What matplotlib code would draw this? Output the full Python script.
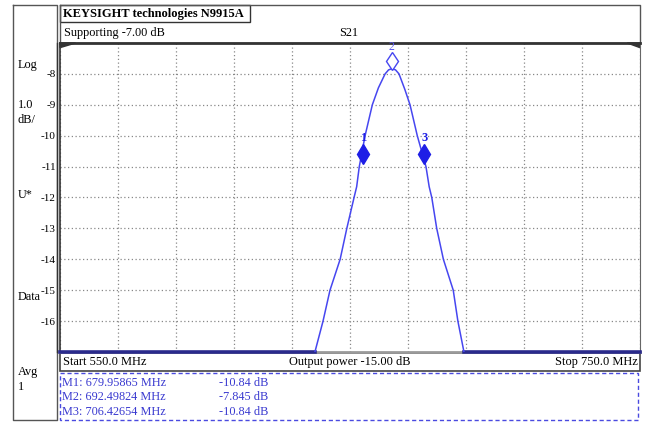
import matplotlib
matplotlib.use("Agg")
import matplotlib.pyplot as plt
from matplotlib.patches import Rectangle, Polygon

plt.rcParams['font.family'] = ['Liberation Serif', 'DejaVu Serif']

# trace (MHz, dB)
freq = [637.9, 640.7, 643.1, 646.6, 648.9, 651.4, 652.3, 653.2, 655.2, 657.7,
        659.8, 662.1, 663.3, 664.5, 665.7, 666.9, 668.9, 670.7, 673.2, 676.2,
        677.3, 678.2, 679.9, 682.2, 685.6, 687.2, 689.3]
s21 = [-17.0, -16.0, -15.0, -14.0, -13.0, -12.0, -11.65, -11.0, -10.0, -9.0,
       -8.45, -8.0, -7.87, -7.83, -7.87, -8.0, -8.5, -9.0, -10.0, -11.0,
       -11.65, -12.0, -13.0, -14.0, -15.0, -16.0, -17.0]

# markers as drawn on the screen
mk_freq = [654.4, 664.4, 675.6]
mk_level = [-10.58, -7.57, -10.58]
mk_names = ['1', '2', '3']

# marker table text
mk_rows = ['M1: 679.95865 MHz', 'M2: 692.49824 MHz', 'M3: 706.42654 MHz']
mk_vals = ['-10.84 dB', '-7.845 dB', '-10.84 dB']

start_mhz, stop_mhz = 550.0, 750.0
ref_db, scale_db = -7.0, 1.0
yticks = [-8, -9, -10, -11, -12, -13, -14, -15, -16]

W, H = 647, 422
fig = plt.figure(figsize=(W / 100, H / 100), dpi=100)

# background layer in pixel coords for the instrument frames
bg = fig.add_axes([0, 0, 1, 1], zorder=0)
bg.set_xlim(0, W)
bg.set_ylim(H, 0)
bg.axis('off')

frame = dict(color='#555555', lw=1.0)
# left column
bg.plot([13, 13, 57, 57, 13], [5, 420, 420, 5, 5], **frame)
# header frame
bg.plot([60, 640, 640, 60, 60], [5, 5, 43, 43, 5], **frame)
bg.add_patch(Rectangle((60, 5), 190, 17, fill=False, ec='#333333', lw=1.0))
# bottom info bar
bg.add_patch(Rectangle((60, 353), 580, 18, fill=False, ec='#444444', lw=1.2))
# marker table (dashed blue)
bg.add_patch(Rectangle((60, 373), 578, 47, fill=False, ec='#4a4ae0', lw=1.0,
                       ls=(0, (3, 2))))

bg.text(63, 14, 'KEYSIGHT technologies N9915A', fontsize=9.0, fontweight='bold',
        va='center', ha='left')
bg.text(64, 33, 'Supporting -7.00 dB', fontsize=8.8, va='center', ha='left')
bg.text(349, 33, 'S21', fontsize=8.8, va='center', ha='center')

for txt, yy in [('Log', 65), ('1.0', 105), ('dB/', 120), ('U*', 195),
                ('Data', 297), ('Avg', 372), ('1', 387)]:
    bg.text(18, yy, txt, fontsize=8.8, va='center', ha='left')

bg.text(63, 362, 'Start %.1f MHz' % start_mhz, fontsize=8.9, va='center', ha='left')
bg.text(350, 362, 'Output power -15.00 dB', fontsize=8.9, va='center', ha='center')
bg.text(638, 362, 'Stop %.1f MHz' % stop_mhz, fontsize=8.9, va='center', ha='right')

for i, (r, v) in enumerate(zip(mk_rows, mk_vals)):
    yy = 383 + i * 14.5
    bg.text(62, yy, r, fontsize=8.8, color='#3a3ad0', va='center', ha='left')
    bg.text(219, yy, v, fontsize=8.8, color='#3a3ad0', va='center', ha='left')

# main trace area
ax = fig.add_axes([60 / W, 1 - 352 / H, 580 / W, 309 / H], zorder=1)
ax.set_xlim(start_mhz, stop_mhz)
ax.set_ylim(ref_db - 10 * scale_db, ref_db)
ax.set_xticks([start_mhz + k * (stop_mhz - start_mhz) / 10 for k in range(11)])
ax.set_yticks(yticks)
ax.set_yticklabels([str(t) for t in yticks])
ax.tick_params(axis='x', length=0, labelbottom=False)
ax.tick_params(axis='y', length=0, pad=3, labelsize=8)
ax.grid(True, color='#888888', lw=0.9, ls=(0, (1, 2)))

for side in ['left', 'top']:
    ax.spines[side].set_color('#333333')
ax.spines['left'].set_linewidth(1.2)
ax.spines['top'].set_linewidth(2.0)
ax.spines['right'].set_color('#666666')
ax.spines['bottom'].set_color('#9a9a9a')
ax.spines['bottom'].set_linewidth(2.0)

# trace floor outside the passband, clamped to the bottom line
floor = ref_db - 10 * scale_db
ax.plot([start_mhz, freq[0]], [floor, floor], color='#2a2a8c', lw=2.6,
        clip_on=False, zorder=3)
ax.plot([freq[-1], stop_mhz], [floor, floor], color='#2a2a8c', lw=2.6,
        clip_on=False, zorder=3)
ax.plot(freq, s21, color='#4646f0', lw=1.1, zorder=4)

for f, lv, nm in zip(mk_freq, mk_level, mk_names):
    if nm == '2':
        ax.plot(f, lv, marker='d', ms=9.5, mfc='white', mec='#4646f0', mew=1.0,
                zorder=5)
        ax.text(f, lv + 0.44, nm, fontsize=8.5, color='#5a5af0', ha='center',
                va='center', zorder=6)
    else:
        ax.plot(f, lv, marker='d', ms=10.5, color='#1e1ee6', zorder=5)
        ax.text(f, lv + 0.52, nm, fontsize=9, color='#1e1ee6', ha='center',
                va='center', fontweight='bold', zorder=6)

# small reference wedges at the top corners
ax.add_patch(Polygon([(0, 1), (0.027, 1), (0, 0.985)], closed=True,
                     transform=ax.transAxes, color='#333333', clip_on=False))
ax.add_patch(Polygon([(1, 1), (0.978, 1), (1, 0.985)], closed=True,
                     transform=ax.transAxes, color='#333333', clip_on=False))

# second line of the left double border
bg.plot([57, 57], [43, 352], color='#333333', lw=1.0)

fig.savefig('out.png', dpi=100, facecolor='white')
